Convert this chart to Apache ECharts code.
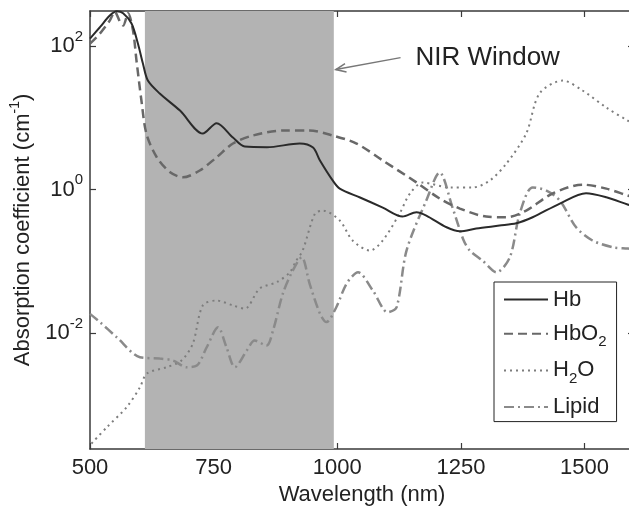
<!DOCTYPE html>
<html><head><meta charset="utf-8">
<script src="https://cdn.jsdelivr.net/npm/echarts@6/dist/echarts.min.js"></script>
<style>html,body{margin:0;padding:0;background:#fff;overflow:hidden}#c{width:634px;height:506px}</style>
</head><body><div id="c"></div>
<script>
// ---- data ----
const hbX = [500,520,540,554,567,584,597,607,617,641,682,728,756,789,813,858,924,951,965,991,1005,1046,1092,1132,1160,1180,1221,1248,1281,1328,1362,1395,1450,1503,1544,1587,1600];
const hbY = [127,183,266,305,287,206,108,57,33,21.8,12.6,6.03,8.4,5.31,3.97,3.89,4.38,3.85,2.54,1.33,1.03,0.774,0.561,0.42,0.483,0.434,0.298,0.262,0.286,0.315,0.339,0.411,0.638,0.888,0.781,0.618,0.58];

const hbo2X = [500,520,540,550,561,567,577,587,594,604,614,635,662,688,722,756,789,829,890,944,991,1039,1092,1160,1207,1248,1301,1342,1382,1435,1496,1544,1587,1600];
const hbo2Y = [108,149,227,300,215,193,287,164,62.8,17.4,6.03,2.82,1.74,1.48,1.84,2.82,4.38,5.66,6.64,6.64,5.66,4.38,2.54,1.26,0.75,0.543,0.42,0.411,0.509,0.879,1.17,1.03,0.825,0.78];

const h2oX = [503,534,574,601,615,655,685,708,728,756,789,813,843,877,904,917,930,955,971,1005,1031,1066,1092,1126,1147,1173,1227,1274,1308,1342,1382,1409,1456,1496,1544,1587,1600];
const h2oY = [2.88e-4,4.86e-4,9.24e-4,1.75e-3,2.73e-3,3.34e-3,4.14e-3,7.14e-3,0.0242,0.0284,0.0242,0.0219,0.0417,0.051,0.0703,0.102,0.141,0.463,0.509,0.37,0.195,0.141,0.195,0.463,0.879,1.25,1.07,1.07,1.33,2.3,6.03,21.8,33,24,13.9,9.16,8.3];

const lipidX = [500,520,554,601,641,668,695,716,736,759,776,793,817,833,857,870,890,910,928,944,965,978,998,1019,1042,1072,1102,1120,1140,1180,1207,1233,1255,1268,1294,1322,1349,1369,1395,1423,1450,1483,1516,1557,1587,1600];
const lipidY = [0.0185,0.0142,8.74e-3,4.6e-3,4.41e-3,4.14e-3,3.34e-3,3.52e-3,6.34e-3,0.012,6.34e-3,3.34e-3,5.7e-3,7.86e-3,6.7e-3,0.0108,0.0355,0.0743,0.114,0.049,0.0187,0.0142,0.0229,0.049,0.0703,0.0391,0.0195,0.0229,0.141,0.703,1.73,0.561,0.2,0.141,0.102,0.0703,0.114,0.463,1.07,0.968,0.703,0.298,0.195,0.157,0.151,0.148];

const seriesNames = ['Hb','HbO2','H2O','Lipid'];
const legendLabels = {Hb:'{t|Hb}', HbO2:'{t|HbO}{sub|2}', H2O:'{t|H}{sub|2}{t|O}', Lipid:'{t|Lipid}'};
const xTicks = [500,750,1000,1250,1500];
const yTicks = [1e-2,1,1e2];
const xRange = [500,1600];
const yRange = [2.42e-4,308];
const nirWindow = [611,993];
const annotationText = 'NIR Window';
const annotationPos = [1158,69];
const arrowTail = [1128,69];
const arrowTip = [997,47];

// ---- chart ----
const FONT = '"Liberation Sans", Arial, sans-serif';
const pair = (xs, ys) => xs.map((x,i)=>[x, ys[i]]);
const axisColor = '#3a3a3a';
const supRich = {
  b:{fontSize:22, fontFamily:FONT, color:'#222', lineHeight:34, verticalAlign:'middle'},
  s:{fontSize:15, fontFamily:FONT, color:'#222', lineHeight:15, verticalAlign:'top'}
};
function yLabel(v){
  const r = Math.round(Math.log10(v));
  return '{b|10}{s|' + (r<0 ? '-' + (-r) : r) + '}';
}
const chart = echarts.init(document.getElementById('c'), null, {renderer:'canvas'});
const lineSeries = (name, data, color, width, type, extra) => Object.assign({
  name, type:'line', data, symbol:'none', smooth:0.3,
  lineStyle:{color, width, type}, itemStyle:{color}, emphasis:{disabled:true}
}, extra||{});

const option = {
  animation:false,
  textStyle:{fontFamily:FONT},
  grid:{left:90, top:11, right:0, bottom:57, containLabel:false, outerBoundsMode:'none'},
  xAxis:[{
    type:'value', min:xRange[0], max:xRange[1], interval:250,
    name:'Wavelength (nm)', nameLocation:'middle', nameGap:30,
    nameTextStyle:{fontSize:22, color:'#222', fontFamily:FONT},
    axisLine:{lineStyle:{color:axisColor, width:1.5}},
    axisTick:{inside:true, length:6, lineStyle:{color:axisColor, width:1.2}},
    axisLabel:{fontSize:22, color:'#222', margin:8, fontFamily:FONT,
      formatter:v => xTicks.indexOf(v)>=0 ? String(v) : ''},
    splitLine:{show:false}
  },{
    type:'value', position:'top', min:xRange[0], max:xRange[1], interval:250,
    axisLine:{lineStyle:{color:axisColor, width:1.5}},
    axisTick:{inside:true, length:6, lineStyle:{color:axisColor, width:1.2}},
    axisLabel:{show:false}, splitLine:{show:false}
  }],
  yAxis:[{
    type:'log', logBase:10, min:yRange[0], max:yRange[1],
    name:'{n|Absorption coefficient (cm}{s|-1}{n|)}', nameLocation:'middle', nameGap:52, nameRotate:90,
    nameTextStyle:{fontSize:22, color:'#222', fontFamily:FONT, rich:{
      n:{fontSize:22, fontFamily:FONT, color:'#222', lineHeight:30, verticalAlign:'middle'},
      s:{fontSize:14, fontFamily:FONT, color:'#222', lineHeight:14, verticalAlign:'top'}
    }},
    axisLine:{show:true, lineStyle:{color:axisColor, width:1.5}},
    axisTick:{show:true, inside:true, length:6, customValues:yTicks, lineStyle:{color:axisColor, width:1.2}},
    axisLabel:{margin:7, customValues:yTicks, formatter:yLabel, rich:supRich},
    splitLine:{show:false}
  },{
    type:'log', logBase:10, min:yRange[0], max:yRange[1], position:'right',
    axisLine:{show:true, lineStyle:{color:axisColor, width:1.5}},
    axisTick:{show:true, inside:true, length:6, customValues:yTicks, lineStyle:{color:axisColor, width:1.2}},
    axisLabel:{show:false}, splitLine:{show:false}
  }],
  legend:{
    orient:'vertical', left:494, top:282, data:seriesNames,
    backgroundColor:'#fff', borderColor:'#222', borderWidth:1, borderRadius:0,
    padding:[4,10,1,9], itemGap:7, itemWidth:44, itemHeight:34,
    itemStyle:{opacity:0},
    formatter:n => legendLabels[n],
    textStyle:{fontSize:22, color:'#222', fontFamily:FONT, rich:{
      t:{fontSize:22, color:'#222', fontFamily:FONT, lineHeight:32, verticalAlign:'middle'},
      sub:{fontSize:15, color:'#222', fontFamily:FONT, lineHeight:15, verticalAlign:'bottom'}
    }},
    selectedMode:false
  },
  series:[
    lineSeries('Hb', pair(hbX,hbY), '#2a2a2a', 2, 'solid', {
      z:5,
      markArea:{silent:true, itemStyle:{color:'#b3b3b3', opacity:1}, data:[[{xAxis:nirWindow[0]},{xAxis:nirWindow[1]}]]}
    }),
    lineSeries('HbO2', pair(hbo2X,hbo2Y), '#686868', 2.5, [9,5], {z:4}),
    lineSeries('H2O', pair(h2oX,h2oY), '#7d7d7d', 2, [2,4], {z:3}),
    lineSeries('Lipid', pair(lipidX,lipidY), '#8a8a8a', 2.5, [10,4,2,4], {z:3})
  ]
};
chart.setOption(option);

// annotation positioned through the axes
const f = {xAxisIndex:0, yAxisIndex:0};
const tp = chart.convertToPixel(f, annotationPos);
const a0 = chart.convertToPixel(f, arrowTail);
const a1 = chart.convertToPixel(f, arrowTip);
const ang = Math.atan2(a1[1]-a0[1], a1[0]-a0[0]);
const hl = 11, ha = 0.4;
const h1 = [a1[0]-hl*Math.cos(ang-ha), a1[1]-hl*Math.sin(ang-ha)];
const h2 = [a1[0]-hl*Math.cos(ang+ha), a1[1]-hl*Math.sin(ang+ha)];
chart.setOption({graphic:[
  {type:'text', left:tp[0], top:tp[1]-13, style:{text:annotationText, font:'26px ' + FONT, fill:'#222'}, z:100},
  {type:'line', shape:{x1:a0[0], y1:a0[1], x2:a1[0], y2:a1[1]}, style:{stroke:'#777', lineWidth:1.5}, z:100},
  {type:'polyline', shape:{points:[h1, a1, h2]}, style:{stroke:'#777', lineWidth:1.5, fill:null}, z:100}
]});
</script>
</body></html>
